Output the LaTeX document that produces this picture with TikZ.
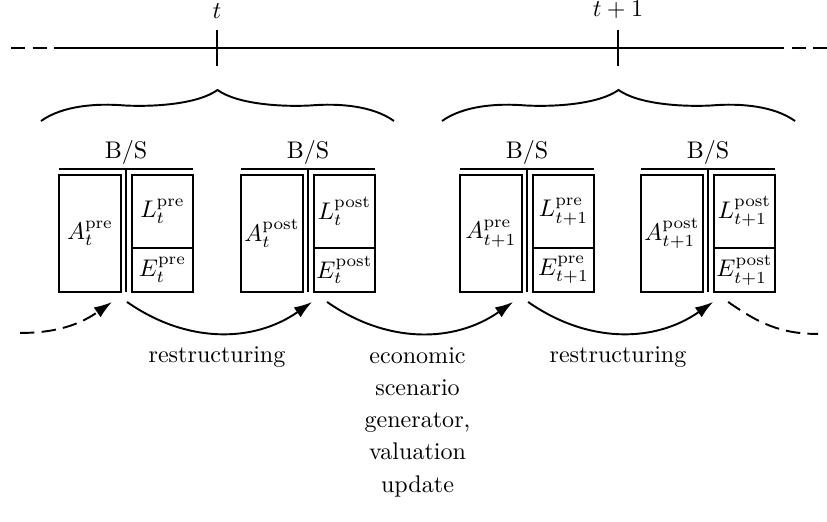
\documentclass[tikz,border=0pt]{standalone}
\usetikzlibrary{arrows.meta}
\begin{document}
\begin{tikzpicture}[line width = 0.8, scale = 1.46,
  sheet/.style = {draw, inner sep = 0, minimum width = 0.9cm},
  asset/.style = {sheet, minimum height = 1.71cm},
  liab/.style = {sheet, minimum height = 1.07cm},
  equity/.style = {sheet, minimum height = 0.64cm},
  bstitle/.style = {above, inner sep = 1.5pt},
  hdash/.style = {dash pattern = on 6pt off 3pt},
  flow/.style = {-{Latex[length = 7.5pt, width = 5pt]}}]
\useasboundingbox (0,0) rectangle (8.27,5.21);
% time axis
\draw[hdash] (0.11,4.73) -- (0.70,4.73);
\draw (0.68,4.73) -- (7.71,4.73);
\draw[hdash] (7.70,4.73) -- (8.27,4.73);
\draw (2.17,4.55) -- (2.17,4.91) node[above, inner sep = 4.5pt] (tnow) {$t$};
\draw (6.18,4.55) -- (6.18,4.91) node[above, inner sep = 4.5pt] (tnext) {$t+1$};
% braces
\draw (0.41,4.00) .. controls (0.62,4.15) and (0.95,4.18) .. (1.25,4.155)
  .. controls (1.55,4.14) and (1.98,4.17) .. (2.175,4.31)
  .. controls (2.37,4.17) and (2.80,4.14) .. (3.10,4.155)
  .. controls (3.40,4.18) and (3.73,4.15) .. (3.94,4.00);
\draw (4.42,4.00) .. controls (4.63,4.15) and (4.96,4.18) .. (5.26,4.155)
  .. controls (5.56,4.14) and (5.99,4.17) .. (6.185,4.31)
  .. controls (6.38,4.17) and (6.81,4.14) .. (7.11,4.155)
  .. controls (7.41,4.18) and (7.74,4.15) .. (7.95,4.00);

% balance sheets
\node[asset] (A1) at ({1.26-0.36},2.875) {$A_t^{\mathrm{pre}}$};
\node[liab] (L1) at ({1.26+0.365},3.095) {$L_t^{\mathrm{pre}}$};
\node[equity] (E1) at ({1.26+0.365},2.51) {$E_t^{\mathrm{pre}}$};
\draw ({1.26-0.67},3.52) -- ({1.26+0.67},3.52);
\draw (1.26,3.52) -- (1.26,2.29);
\node[bstitle] (bs1) at (1.26,3.52) {B/S};

\node[asset] (A2) at ({3.08-0.36},2.875) {$A_t^{\mathrm{post}}$};
\node[liab] (L2) at ({3.08+0.365},3.095) {$L_t^{\mathrm{post}}$};
\node[equity] (E2) at ({3.08+0.365},2.51) {$E_t^{\mathrm{post}}$};
\draw ({3.08-0.67},3.52) -- ({3.08+0.67},3.52);
\draw (3.08,3.52) -- (3.08,2.29);
\node[bstitle] (bs2) at (3.08,3.52) {B/S};

\node[asset] (A3) at ({5.27-0.36},2.875) {$A_{t+1}^{\mathrm{pre}}$};
\node[liab] (L3) at ({5.27+0.365},3.095) {$L_{t+1}^{\mathrm{pre}}$};
\node[equity] (E3) at ({5.27+0.365},2.51) {$E_{t+1}^{\mathrm{pre}}$};
\draw ({5.27-0.67},3.52) -- ({5.27+0.67},3.52);
\draw (5.27,3.52) -- (5.27,2.29);
\node[bstitle] (bs3) at (5.27,3.52) {B/S};

\node[asset] (A4) at ({7.08-0.36},2.875) {$A_{t+1}^{\mathrm{post}}$};
\node[liab] (L4) at ({7.08+0.365},3.095) {$L_{t+1}^{\mathrm{post}}$};
\node[equity] (E4) at ({7.08+0.365},2.51) {$E_{t+1}^{\mathrm{post}}$};
\draw ({7.08-0.67},3.52) -- ({7.08+0.67},3.52);
\draw (7.08,3.52) -- (7.08,2.29);
\node[bstitle] (bs4) at (7.08,3.52) {B/S};

% steps between the sheets
\coordinate (s0) at (0.20,1.88);
\coordinate (e1) at (1.12,2.19);
\coordinate (s1) at (1.27,2.19);
\coordinate (e2) at (3.12,2.19);
\coordinate (s2) at (3.27,2.19);
\coordinate (e3) at (5.13,2.19);
\coordinate (s3) at (5.28,2.19);
\coordinate (e4) at (7.13,2.19);
\coordinate (s4) at (7.28,2.19);
\coordinate (e5) at (8.18,1.87);
\draw[flow, hdash] (s0) to[out = 0, in = 215] (e1);
\draw[flow] (s1) to[bend right = 35] (e2);
\draw[flow] (s2) to[bend right = 35] (e3);
\draw[flow] (s3) to[bend right = 35] (e4);
\draw[hdash] (s4) to[out = -35, in = 180] (e5);

\node[anchor = base] (restr1) at (2.17,1.58) {restructuring};
\node[anchor = base] (restr2) at (6.18,1.58) {restructuring};
\node[anchor = north, align = center, font = \linespread{1.11}\selectfont] (esg) at (4.175,1.82)
  {economic\\scenario\\generator,\\valuation\\update};
\end{tikzpicture}
\end{document}
